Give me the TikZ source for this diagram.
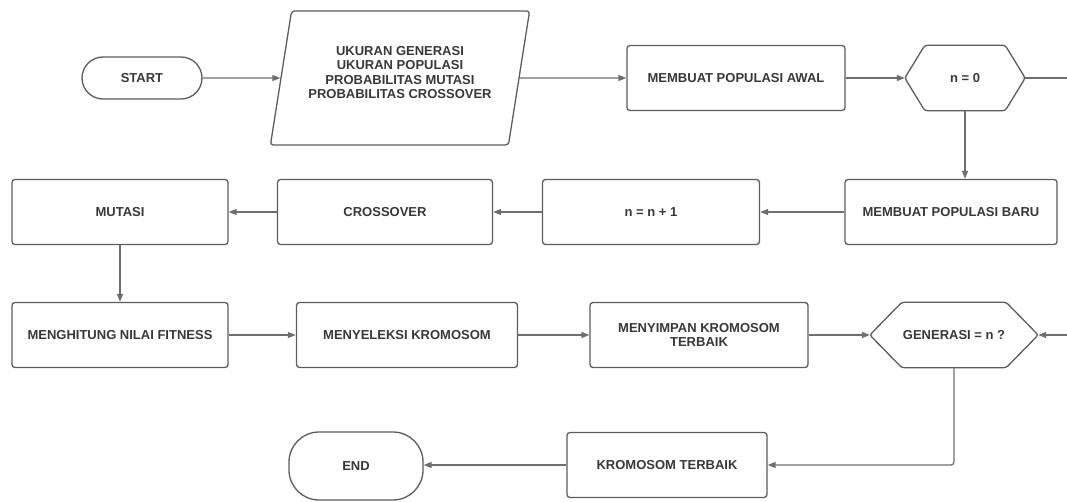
\documentclass[tikz,border=0pt]{standalone}
\usepackage{fontspec}
\setmainfont{Liberation Sans}
\usetikzlibrary{shapes.geometric,arrows.meta}
\definecolor{boxc}{HTML}{5C5C5C}
\definecolor{linec}{HTML}{6E6E6E}
\definecolor{txtc}{HTML}{383838}
\newcommand\hexpath[2]{\draw[hexline] (#1.west) -- ([xshift=#2]#1.north west) -- ([xshift=-#2]#1.north east) -- (#1.east) -- ([xshift=-#2]#1.south east) -- ([xshift=#2]#1.south west) -- cycle;}
\begin{document}
\begin{tikzpicture}[x=1pt,y=-1pt,
  lbl/.style={text=txtc, font=\bfseries\fontsize{13}{14.5}\selectfont, align=center, inner sep=2pt},
  box/.style={lbl, draw=boxc, line width=1.3pt, rounded corners=3pt, fill=white, minimum height=65pt},
  term/.style={box, rounded corners=21pt},
  hexnode/.style={lbl, minimum height=65pt},
  hexline/.style={draw=boxc, line width=1.3pt, rounded corners=2.5pt},
  para/.style={lbl, draw=boxc, line width=1.3pt, rounded corners=3pt, trapezium, trapezium left angle=75, trapezium right angle=105, trapezium stretches=true, minimum width=260pt, minimum height=134pt},
  conn/.style={draw=linec, line width=1.3pt, -{Triangle[length=8pt,width=6pt]}},
  plain/.style={draw=linec, line width=1.3pt}]
\useasboundingbox (0,0) rectangle (1067,502);
% row 1
\node[term, minimum width=120pt, minimum height=42pt] (start) at (142,78) {START};
\node[para] (input) at (400,78) {UKURAN GENERASI\\UKURAN POPULASI\\PROBABILITAS MUTASI\\PROBABILITAS CROSSOVER\\[-3pt]};
\node[box, minimum width=218pt] (awal) at (736,78) {MEMBUAT POPULASI AWAL};
\node[hexnode, minimum width=120pt] (n0) at (965,78) {n = 0};
\hexpath{n0}{20pt}
\coordinate (r1) at (1067,78);
% row 2
\node[box, minimum width=212pt] (baru) at (951,212) {MEMBUAT POPULASI BARU};
\node[box, minimum width=217pt] (n1) at (651,212) {n = n + 1};
\node[box, minimum width=215pt] (cross) at (385,212) {CROSSOVER};
\node[box, minimum width=216pt] (mut) at (120,212) {MUTASI};
% row 3
\node[box, minimum width=216pt] (fit) at (120,335) {MENGHITUNG NILAI FITNESS};
\node[box, minimum width=221pt] (sel) at (407,335) {MENYELEKSI KROMOSOM};
\node[box, minimum width=218pt] (simpan) at (699,335) {MENYIMPAN KROMOSOM\\TERBAIK};
\node[hexnode, minimum width=168pt] (gen) at (954,335) {GENERASI = n ?};
\hexpath{gen}{32pt}
\coordinate (r2) at (1067,335);
% row 4
\node[box, minimum width=200pt] (kt) at (667,465) {KROMOSOM TERBAIK};
\node[term, rounded corners=30pt, minimum width=134pt, minimum height=68pt] (end) at (356,466) {END};
% connectors
\draw[conn] (start) -- (input);
\draw[conn] (input) -- (awal);
\draw[conn] (awal) -- (n0.west);
\draw[plain] (n0.east) -- (r1);
\draw[conn] (n0.south) -- (n0.south |- baru.north);
\draw[conn] (baru) -- (n1);
\draw[conn] (n1) -- (cross);
\draw[conn] (cross) -- (mut);
\draw[conn] (mut) -- (fit);
\draw[conn] (fit) -- (sel);
\draw[conn] (sel) -- (simpan);
\draw[conn] (simpan) -- (gen.west);
\draw[conn] (r2) -- (gen.east);
\draw[conn, rounded corners=3pt] (gen.south) |- (kt.east);
\draw[conn] (kt.west) -- (kt.west -| end.east);
\end{tikzpicture}
\end{document}
